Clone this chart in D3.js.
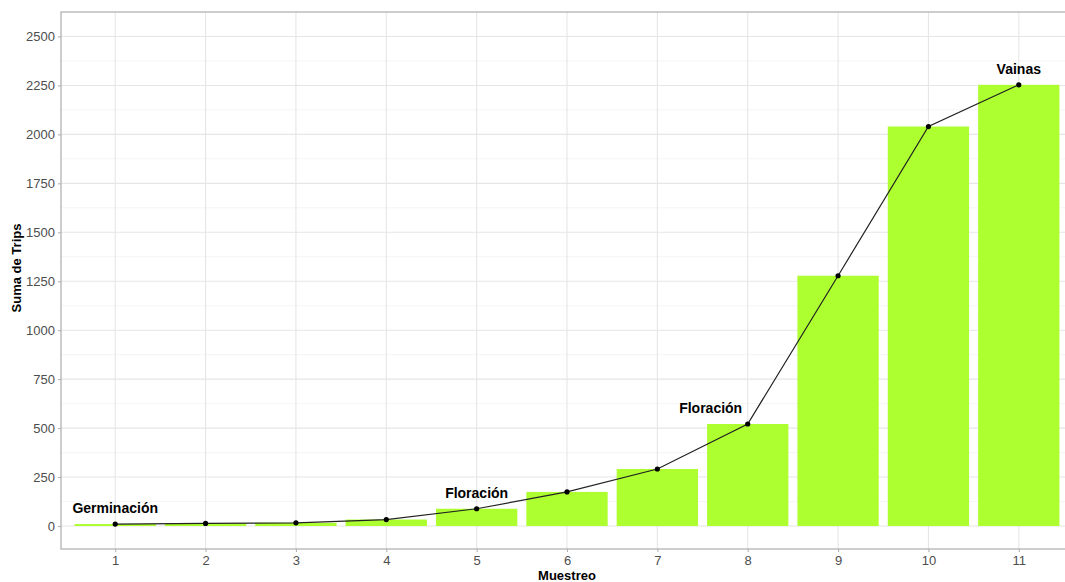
<!DOCTYPE html>
<html><head><meta charset="utf-8">
<script src="https://cdn.jsdelivr.net/npm/d3@7"></script>
<style>body{margin:0;background:#fff}svg{display:block}</style>
</head><body>
<svg id="c" width="1065" height="582"></svg>
<script>
const muestreo = [1,2,3,4,5,6,7,8,9,10,11];
const trips = [10,13,16,33,88,174,291,521,1278,2040,2253];
const labelText = ["Germinación","Floración","Floración","Vainas"];
const labelX = [1,5,7.59,11];
const labelY = [92,168,603,2334];
const yTicks = [0,250,500,750,1000,1250,1500,1750,2000,2250,2500];

const svg = d3.select("#c");
const L=61, T=12, R=1073, B=549;
const x = d3.scaleLinear().domain([0.4,11.6]).range([L,R]);
const y = d3.scaleLinear().domain([-117.5,2625]).range([B,T]);
const font = "'Liberation Sans', Arial, sans-serif";

// minor grid
const minor = d3.range(125,2625,250);
svg.append("g").selectAll("line").data(minor).join("line")
  .attr("x1",L).attr("x2",R).attr("y1",d=>y(d)).attr("y2",d=>y(d))
  .attr("stroke","#f2f2f2").attr("stroke-width",0.8);
// major grid
svg.append("g").selectAll("line").data(yTicks).join("line")
  .attr("x1",L).attr("x2",R).attr("y1",d=>y(d)).attr("y2",d=>y(d))
  .attr("stroke","#e6e6e6").attr("stroke-width",1.1);
svg.append("g").selectAll("line").data(muestreo).join("line")
  .attr("y1",T).attr("y2",B).attr("x1",d=>x(d)).attr("x2",d=>x(d))
  .attr("stroke","#e6e6e6").attr("stroke-width",1.1);

// bars
svg.append("g").selectAll("rect").data(muestreo).join("rect")
  .attr("x",(d)=>x(d-0.45)).attr("width",(d)=>x(d+0.45)-x(d-0.45))
  .attr("y",(d,i)=>y(trips[i])).attr("height",(d,i)=>y(0)-y(trips[i]))
  .attr("fill","#adff2f");

// line
const line = d3.line().x((d,i)=>x(muestreo[i])).y(d=>y(d));
svg.append("path").datum(trips).attr("d",line).attr("fill","none")
  .attr("stroke","#222").attr("stroke-width",1.2);
svg.append("g").selectAll("circle").data(trips).join("circle")
  .attr("cx",(d,i)=>x(muestreo[i])).attr("cy",d=>y(d)).attr("r",2.6).attr("fill","#000");

// labels
svg.append("g").selectAll("text").data(labelText).join("text")
  .attr("x",(d,i)=>x(labelX[i])).attr("y",(d,i)=>y(labelY[i])).attr("dy","0.35em")
  .attr("text-anchor","middle").attr("font-family",font).attr("font-weight","bold")
  .attr("font-size",14).attr("fill","#000").text(d=>d);

// panel border
svg.append("rect").attr("x",L).attr("y",T).attr("width",R-L).attr("height",B-T)
  .attr("fill","none").attr("stroke","#b3b3b3").attr("stroke-width",1.3);

// axes
const ya = svg.append("g").attr("transform",`translate(${L},0)`)
  .call(d3.axisLeft(y).tickValues(yTicks).tickFormat(d3.format("d")).tickSize(3).tickPadding(3));
const xa = svg.append("g").attr("transform",`translate(0,${B})`)
  .call(d3.axisBottom(x).tickValues(muestreo).tickFormat(d3.format("d")).tickSize(3).tickPadding(4));
[ya,xa].forEach(a=>{
  a.select(".domain").remove();
  a.selectAll(".tick line").attr("stroke","#b3b3b3").attr("stroke-width",1.1);
  a.selectAll(".tick text").attr("fill","#4d4d4d").attr("font-size",13).attr("font-family",font);
});

svg.append("text").attr("x",567).attr("y",580).attr("text-anchor","middle")
  .attr("font-family",font).attr("font-weight","bold").attr("font-size",13).text("Muestreo");
svg.append("text").attr("transform","translate(21,268) rotate(-90)").attr("text-anchor","middle")
  .attr("font-family",font).attr("font-weight","bold").attr("font-size",13).text("Suma de Trips");
</script>
</body></html>
